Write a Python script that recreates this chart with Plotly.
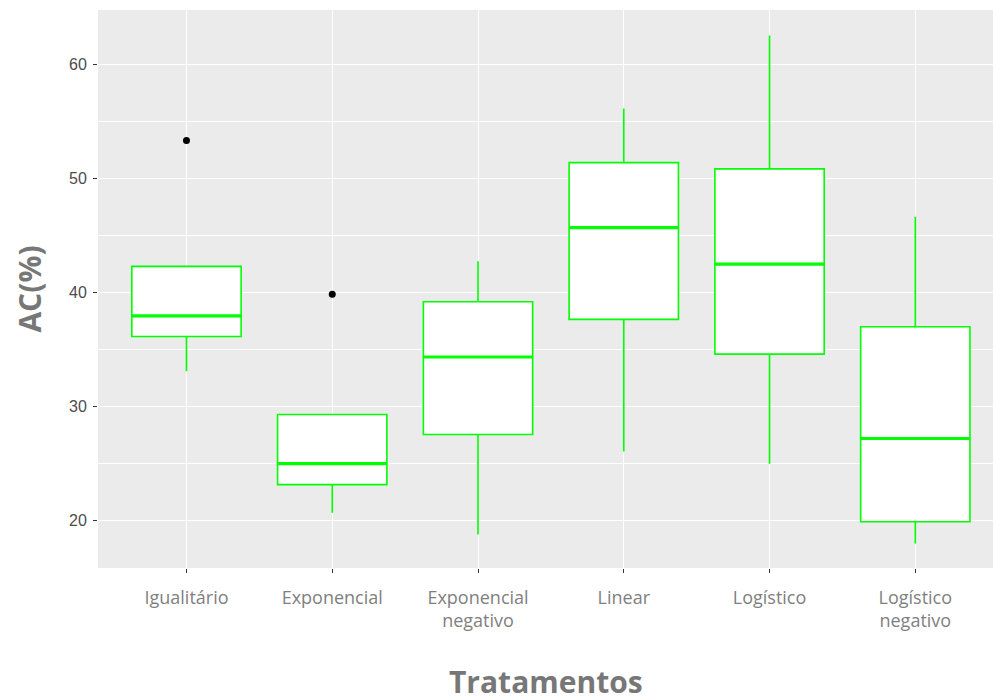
import plotly.graph_objects as go

# Treatments and box-plot summary statistics of AC(%)
tratamentos = ["Igualitário", "Exponencial", "Exponencial<br>negativo",
               "Linear", "Logístico", "Logístico<br>negativo"]
lower_fence = [33.05, 20.64, 18.72, 26.0, 24.94, 17.95]
q1 = [36.1, 23.1, 27.5, 37.6, 34.55, 19.85]
median = [37.9, 24.95, 34.3, 45.65, 42.45, 27.15]
q3 = [42.25, 29.25, 39.15, 51.35, 50.8, 36.95]
upper_fence = [42.25, 29.25, 42.7, 56.1, 62.5, 46.6]

# Outlying observations (treatment index, value)
outlier_idx = [0, 1]
outlier_val = [53.3, 39.8]

box_width = 0.75
green = "#00FF00"
positions = list(range(len(tratamentos)))

fig = go.Figure()

fig.add_trace(go.Box(
    x=positions,
    q1=q1, median=median, q3=q3,
    lowerfence=lower_fence, upperfence=upper_fence,
    width=box_width,
    whiskerwidth=0,
    fillcolor="white",
    line=dict(color=green, width=1.6),
    boxpoints=False,
    hoverinfo="skip",
    showlegend=False,
))

# Thicker median bars, as in ggplot's fattened median
mx, my = [], []
for p, m in zip(positions, median):
    mx += [p - box_width / 2, p + box_width / 2, None]
    my += [m, m, None]
fig.add_trace(go.Scatter(
    x=mx, y=my, mode="lines",
    line=dict(color=green, width=3.2),
    hoverinfo="skip", showlegend=False,
))

fig.add_trace(go.Scatter(
    x=outlier_idx, y=outlier_val, mode="markers",
    marker=dict(color="black", size=7),
    hoverinfo="skip", showlegend=False,
))

fig.update_layout(
    width=993, height=699,
    margin=dict(l=98, r=0, t=10, b=131),
    paper_bgcolor="white",
    plot_bgcolor="#EBEBEB",
    font=dict(family="Open Sans", color="#4D4D4D"),
    showlegend=False,
)

# x-axis title placed as an annotation so it can sit close to the page bottom
fig.add_annotation(
    text="Tratamentos", showarrow=False,
    xref="paper", yref="paper", x=0.5, y=0,
    xanchor="center", yanchor="top", yshift=-91,
    font=dict(family="Open Sans", size=30, color="#777777", weight="bold"),
)

fig.update_xaxes(
    range=[-0.607, 5.533],
    tickmode="array", tickvals=positions, ticktext=tratamentos,
    tickfont=dict(family="Open Sans", size=18, color="#7F7F7F"),
    ticks="outside", ticklen=4, tickwidth=1, tickcolor="#333333",
    ticklabelstandoff=9,
    showgrid=True, gridcolor="white", gridwidth=1.4,
    zeroline=False, showline=False,
)

fig.update_yaxes(
    range=[15.79, 64.74],
    tickmode="array", tickvals=[20, 30, 40, 50, 60],
    tickfont=dict(family="Liberation Sans", size=16, color="#4D4D4D"),
    ticks="outside", ticklen=4, tickwidth=1, tickcolor="#333333",
    ticklabelstandoff=3,
    showgrid=True, gridcolor="white", gridwidth=1.4,
    minor=dict(tickvals=[15, 25, 35, 45, 55], showgrid=True,
               gridcolor="white", gridwidth=0.7, ticks=""),
    zeroline=False, showline=False,
    title=dict(text="AC(%)",
               font=dict(family="Open Sans", size=30, color="#777777", weight="bold"),
               standoff=18),
)

fig.write_html("out.html")
